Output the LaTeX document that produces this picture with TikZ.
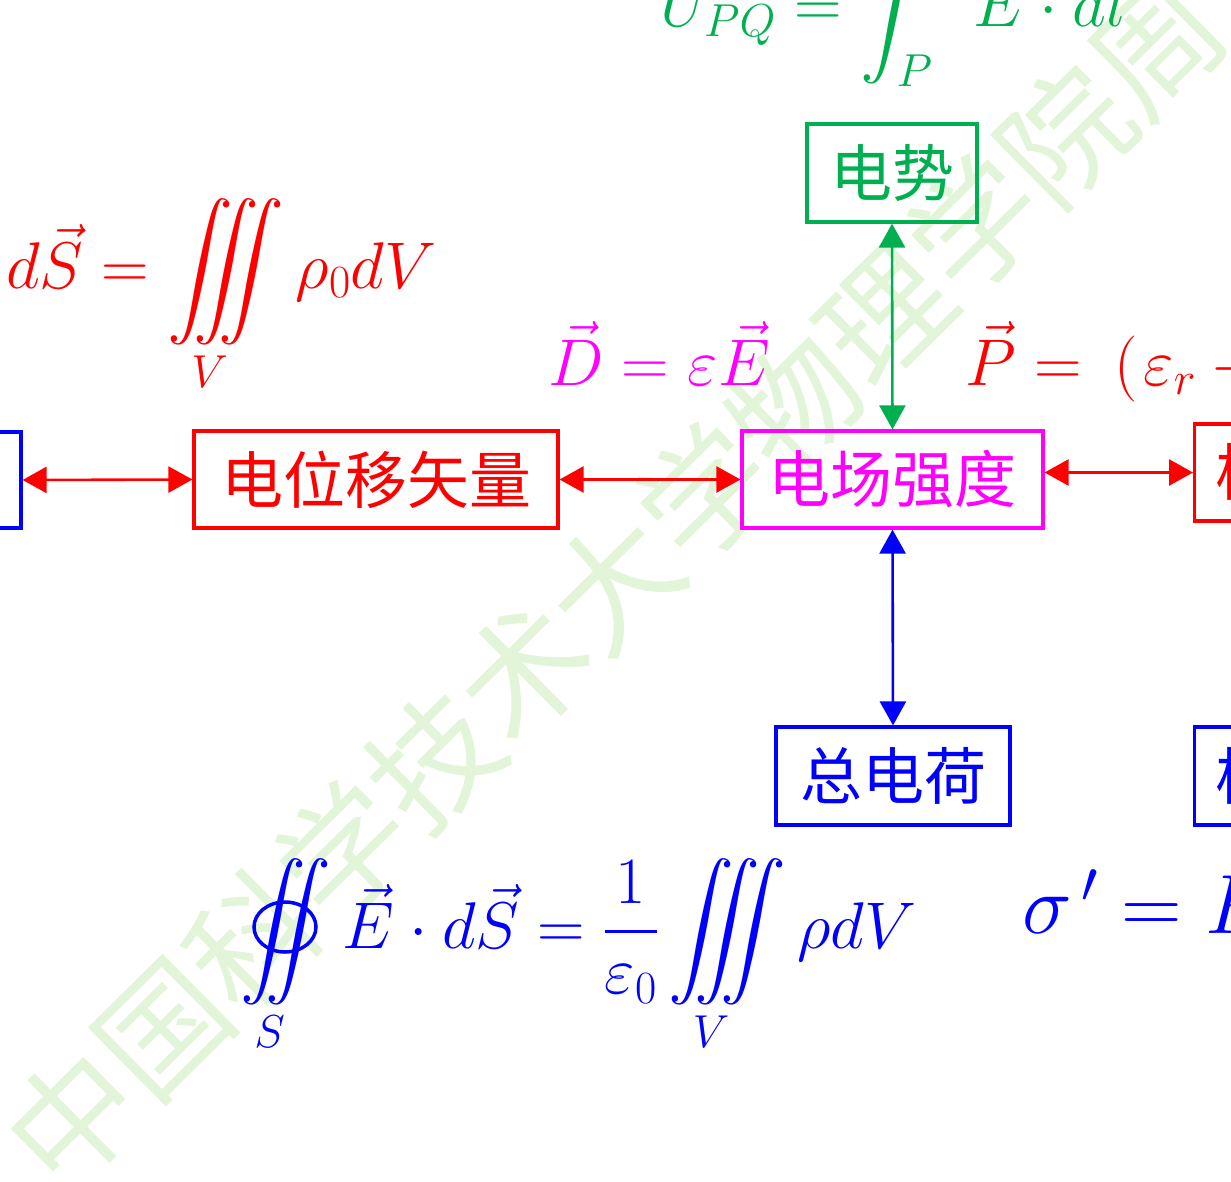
\RequirePackage{fix-cm}
\documentclass[tikz,border=0pt]{standalone}
\usepackage{amsmath}
\usepackage{fontspec}
\DeclareFontShape{OMX}{cmex}{m}{n}{<-> cmex10}{}
\makeatletter
\renewcommand{\intkern@}{\mkern-14mu}
\makeatother
\newfontfamily\cjk{Noto Sans CJK SC}
\usetikzlibrary{arrows.meta}
\definecolor{cred}{RGB}{255,0,0}
\definecolor{cmag}{RGB}{255,0,255}
\definecolor{cgreen}{RGB}{0,176,80}
\definecolor{cblue}{RGB}{0,0,255}
\definecolor{wmark}{RGB}{227,245,216}
\newcommand\boxfont{\cjk\fontsize{62}{70}\selectfont}
\newcommand\mfs{\fontsize{66}{76}\selectfont}
\begin{document}
\begin{tikzpicture}[x=1pt,y=-1pt,
  box/.style={draw, line width=3.2pt, inner sep=0pt, font=\boxfont},
  link/.style={line width=2.6pt, {Triangle[length=24pt,width=26pt]}-{Triangle[length=24pt,width=26pt]}},
  formula/.style={inner sep=0pt, anchor=base west, font=\mfs}]
\useasboundingbox (0,0) rectangle (1231,1182);
\clip (0,0) rectangle (1231,1182);
% watermark
\node[text=wmark, rotate=44.7, inner sep=0pt, font=\cjk\fontsize{127}{130}\selectfont] (wm) at (614,582)
  {中国科学技术大学物理学院周};
% boxes
\node[box, cgreen, minimum width=170pt, minimum height=98pt] (ds) at (892,173) {电势};
\node[box, cred, minimum width=364pt, minimum height=97pt] (dw) at (376,479.5) {电位移矢量};
\node[box, cmag, minimum width=301pt, minimum height=97pt] (dc) at (892.5,479.5) {电场强度};
\node[box, cblue, minimum width=234pt, minimum height=98pt] (zd) at (893,776) {总电荷};
\node[box, cblue, minimum width=240pt, minimum height=96pt] (lb) at (-99,480) {};
\node[box, cred, minimum width=290pt, minimum height=97pt, anchor=west] (rr) at (1193,472.5) {极化强度};
\node[box, cblue, minimum width=290pt, minimum height=98pt, anchor=west] (rb) at (1193,776) {极化电荷};
% connectors
\draw[link, cred] (lb.east) -- (dw.west);
\draw[link, cred] (dw.east) -- (dc.west);
\draw[link, cred] (rr.west -| dc.east) -- (rr.west);
\draw[link, cgreen] (ds.south) -- (dc.north);
\draw[link, cblue] (dc.south) -- (zd.north);
% formulas
\node[formula, text=cgreen] (fu) at (660,27) {$\displaystyle U_{PQ} = \int_P^Q \vec E\cdot d\vec l$};
\node[formula, text=cred] (fd) at (6,288) {$\displaystyle d\vec S = \iiint\limits_V \rho_0 dV$};
\node[formula, text=cmag] (fe) at (548,385) {$\vec D = \varepsilon\vec E$};
\node[formula, text=cred] (fp) at (965,385) {$\vec P = \mkern4mu(\mkern1.5mu\varepsilon_r - 1)\varepsilon_0\vec E$};
\node[formula, text=cblue] (fg) at (240,948) {$\displaystyle \iint\limits_S \vec E\cdot d\vec S = \frac{1}{\varepsilon_0}\iiint\limits_V \rho dV$};
\node[formula, text=cblue, font=\fontsize{84}{90}\selectfont] (fs) at (1022,933) {$\sigma^{\mkern3mu\prime} = P$};
\draw[cblue, line width=3.5pt] (285,927) ellipse [x radius=31, y radius=25];
\end{tikzpicture}
\end{document}
